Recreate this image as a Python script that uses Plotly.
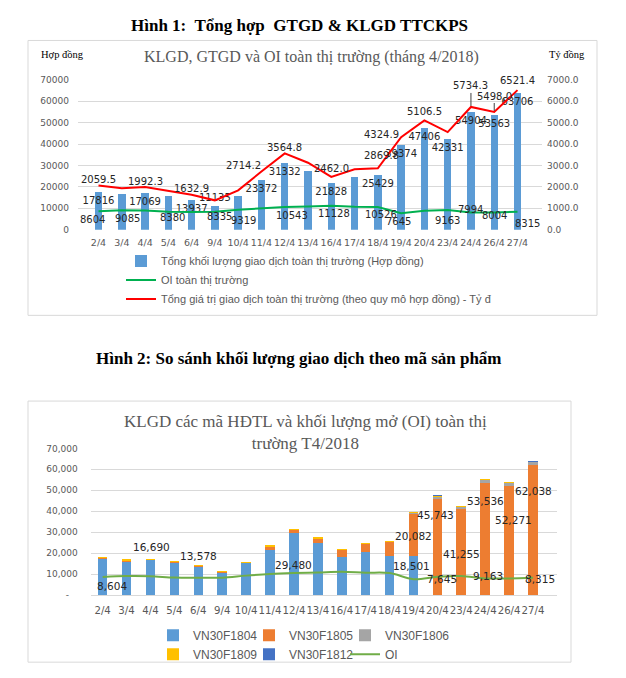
import plotly.graph_objects as go

W, H = 626, 678


def fx(p):
    return p / W


def fy(p):
    return 1 - p / H


# ---------------- data ----------------
days = ["2/4", "3/4", "4/4", "5/4", "6/4", "9/4", "10/4", "11/4", "12/4", "13/4",
        "16/4", "17/4", "18/4", "19/4", "20/4", "23/4", "24/4", "26/4", "27/4"]

# Figure 1
klgd = [17816, 16600, 17069, 15800, 13937, 11135, 15500, 23372, 31332, 27300,
        21828, 24700, 25429, 39374, 47406, 42331, 54904, 53563, 63706]
klgd_labeled = [1, 0, 1, 0, 1, 1, 0, 1, 1, 0, 1, 0, 1, 1, 1, 1, 1, 1, 1]
oi = [8604, 9085, 9000, 8380, 8300, 8335, 9319, 10100, 10543, 10800,
      11128, 10700, 10526, 7645, 8800, 9163, 7994, 8004, 8315]
oi_labeled = [1, 1, 0, 1, 0, 1, 1, 0, 1, 0, 1, 0, 1, 1, 0, 1, 1, 1, 1]
gtgd = [2059.5, 1930, 1992.3, 1825, 1632.9, 1370, 1835, 2714.2, 3564.8, 3128,
        2462.0, 2820, 2869.8, 4324.9, 5106.5, 4560, 5734.3, 5498.0, 6521.4]
gtgd_labeled = [1, 0, 1, 0, 1, 0, 0, 1, 1, 0, 1, 0, 1, 1, 1, 0, 1, 1, 1]

# Figure 2
f1804 = [17300, 16000, 16690, 15400, 13578, 10850, 15200, 21400, 29480, 25100,
         18400, 20500, 18700, 18501, 0, 0, 0, 0, 0]
f1805 = [480, 560, 350, 380, 330, 260, 280, 1650, 1800, 1900,
         3400, 3900, 6700, 20082, 45743, 41255, 53536, 52271, 62038]
f1806 = [20, 20, 10, 10, 10, 10, 10, 80, 20, 80,
         20, 40, 20, 500, 1300, 1050, 1300, 1250, 1300]
f1809 = [16, 20, 19, 10, 19, 15, 10, 242, 32, 220,
         8, 260, 9, 291, 300, 26, 68, 42, 168]
f1812 = [0, 0, 0, 0, 0, 0, 0, 0, 0, 0,
         0, 0, 0, 0, 63, 0, 0, 0, 200]
f1804_labeled = [0, 0, 1, 0, 1, 0, 0, 0, 1, 0, 0, 0, 0, 1, 0, 0, 0, 0, 0]
f1805_labeled = [0, 0, 0, 0, 0, 0, 0, 0, 0, 0, 0, 0, 0, 1, 1, 1, 1, 1, 1]
oi2_labeled = [1, 0, 0, 0, 0, 0, 0, 0, 0, 0, 0, 0, 0, 1, 0, 1, 0, 0, 1]

y1_ticks = [0, 10000, 20000, 30000, 40000, 50000, 60000, 70000]
y2_ticks = [0, 1000, 2000, 3000, 4000, 5000, 6000, 7000]
y3_ticktext = ["-\u00a0\u00a0\u00a0", "10,000", "20,000", "30,000", "40,000",
               "50,000", "60,000", "70,000"]

# ---------------- label placement styles (pixel offsets dx, dy; dy>0 = up) ----------------
RED_OFF = {7: (-18, 6), 10: (0, 8), 12: (4, 13), 13: (-20, 3), 14: (0, 9),
           16: (0, 21), 17: (0, 16), 18: (0, 10)}
RED_ARROW = {16, 17}
GREEN_OFF = {0: (-6, -8), 1: (6, -8), 3: (4, -6), 5: (5, -5), 6: (5, -11), 8: (7, -8),
             10: (3, -8), 12: (3, -7), 13: (-3, -8), 15: (0, -10), 16: (0, 3),
             17: (0, -3), 18: (10, -12)}
F1804_OFF = {2: (1, 13), 4: (0, 11), 8: (0, -32), 13: (-2, -10)}
F1805_OFF = {13: (0, -22), 14: (-2, -16), 15: (0, -45), 16: (0, -18), 17: (4, -34),
             18: (0, -26)}
OI2_OFF = {0: (9, -9), 13: (29, 0), 15: (27, 0), 18: (7, -1)}

GRAY = "#595959"
LBL = "#262626"


def lab(x, y, text, off, xref, yref, size, arrow=False):
    dx, dy = off
    font = dict(family="DejaVu Sans", size=size, color=LBL)
    if arrow:
        return dict(x=x, y=y, xref=xref, yref=yref, text=text, showarrow=True,
                    arrowhead=0, arrowwidth=1, arrowcolor="#404040", ax=dx, ay=-dy,
                    standoff=1, font=font)
    return dict(x=x, y=y, xref=xref, yref=yref, text=text, showarrow=False,
                xshift=dx, yshift=dy, xanchor="center", yanchor="middle", font=font)


fig = go.Figure()

# ---------------- Figure 1 ----------------
fig.add_trace(go.Bar(
    x=days, y=klgd, name="Tổng khối lượng giao dịch toàn thị trường (Hợp đồng)",
    marker=dict(color="#5B9BD5", line=dict(width=0)), width=0.32,
    text=[f"{v}" if s else "" for v, s in zip(klgd, klgd_labeled)],
    textposition=["inside"] * 5 + ["outside"] + ["inside"] * 13,
    insidetextanchor="end", textangle=0, constraintext="none",
    insidetextfont=dict(family="DejaVu Sans", size=10, color=LBL),
    outsidetextfont=dict(family="DejaVu Sans", size=10, color=LBL), cliponaxis=False,
    xaxis="x", yaxis="y", legend="legend", hoverinfo="skip"))
fig.add_trace(go.Scatter(
    x=days, y=oi, mode="lines", name="OI toàn thị trường",
    line=dict(color="#00B050", width=2),
    xaxis="x", yaxis="y", legend="legend", hoverinfo="skip"))
fig.add_trace(go.Scatter(
    x=days, y=gtgd, mode="lines",
    name="Tổng giá trị giao dịch toàn thị trường (theo quy mô hợp đồng) - Tỷ đ",
    line=dict(color="#FF0000", width=2),
    xaxis="x", yaxis="y2", legend="legend", hoverinfo="skip"))

# ---------------- Figure 2 ----------------
series2 = [("VN30F1804", f1804, "#5B9BD5", "legend2"),
           ("VN30F1805", f1805, "#ED7D31", "legend3"),
           ("VN30F1806", f1806, "#A5A5A5", "legend4"),
           ("VN30F1809", f1809, "#FFC000", "legend2"),
           ("VN30F1812", f1812, "#4472C4", "legend3")]
for name, vals, col, lg in series2:
    fig.add_trace(go.Bar(
        x=days, y=vals, name=name, marker=dict(color=col, line=dict(width=0)),
        width=0.4, xaxis="x2", yaxis="y3", legend=lg, hoverinfo="skip"))
fig.add_trace(go.Scatter(
    x=days, y=oi, mode="lines", name="OI", line=dict(color="#70AD47", width=2, shape="spline"),
    xaxis="x2", yaxis="y3", legend="legend4", hoverinfo="skip"))

# ---------------- data labels ----------------
annotations = []
for i, (d, v, s) in enumerate(zip(days, gtgd, gtgd_labeled)):
    if s:
        annotations.append(lab(d, v, f"{v:.1f}", RED_OFF.get(i, (0, 6)), "x", "y2", 10,
                               arrow=i in RED_ARROW))
for i, (d, v, s) in enumerate(zip(days, oi, oi_labeled)):
    if s:
        annotations.append(lab(d, v, f"{v}", GREEN_OFF.get(i, (0, -8)), "x", "y", 10))
for i, (d, v, s) in enumerate(zip(days, f1804, f1804_labeled)):
    if s:
        annotations.append(lab(d, v, f"{v:,}", F1804_OFF.get(i, (0, -10)), "x2", "y3", 10.5))
for i, (d, a, b, s) in enumerate(zip(days, f1804, f1805, f1805_labeled)):
    if s:
        annotations.append(lab(d, a + b, f"{b:,}", F1805_OFF.get(i, (0, -20)), "x2", "y3", 10.5))
for i, (d, v, s) in enumerate(zip(days, oi, oi2_labeled)):
    if s:
        annotations.append(lab(d, v, f"{v:,}", OI2_OFF.get(i, (20, 0)), "x2", "y3", 10.5))

# titles & texts
annotations += [
    dict(x=fx(299), y=fy(21), xref="paper", yref="paper", showarrow=False,
         text="<b>Hình 1:  Tổng hợp  GTGD & KLGD TTCKPS</b>",
         font=dict(family="Liberation Serif", size=17, color="#000000"),
         xanchor="center", yanchor="middle"),
    dict(x=fx(311), y=fy(53), xref="paper", yref="paper", showarrow=False,
         text="KLGD, GTGD và OI toàn thị trường (tháng 4/2018)",
         font=dict(family="Liberation Serif", size=16, color=GRAY),
         xanchor="center", yanchor="middle"),
    dict(x=fx(62), y=fy(50), xref="paper", yref="paper", showarrow=False,
         text="Hợp đồng", font=dict(family="Liberation Serif", size=10.5, color="#000000"),
         xanchor="center", yanchor="middle"),
    dict(x=fx(567), y=fy(50), xref="paper", yref="paper", showarrow=False,
         text="Tỷ đồng", font=dict(family="Liberation Serif", size=10.5, color="#000000"),
         xanchor="center", yanchor="middle"),
    dict(x=fx(299), y=fy(359), xref="paper", yref="paper", showarrow=False,
         text="<b>Hình 2: So sánh khối lượng giao dịch theo mã sản phẩm</b>",
         font=dict(family="Liberation Serif", size=17, color="#000000"),
         xanchor="center", yanchor="middle"),
    dict(x=fx(305), y=fy(434), xref="paper", yref="paper", showarrow=False,
         text="KLGD các mã HĐTL và khối lượng mở (OI) toàn thị<br>trường T4/2018",
         font=dict(family="Liberation Serif", size=17, color=GRAY),
         xanchor="center", yanchor="middle"),
]

shapes = [
    dict(type="rect", xref="paper", yref="paper", x0=fx(28), x1=fx(597), y0=fy(315), y1=fy(36),
         line=dict(color="#D9D9D9", width=1), fillcolor="rgba(0,0,0,0)", layer="below"),
    dict(type="rect", xref="paper", yref="paper", x0=fx(28), x1=fx(571), y0=fy(667), y1=fy(402),
         line=dict(color="#D9D9D9", width=1), fillcolor="rgba(0,0,0,0)", layer="below"),
]

tickfont_small = dict(family="DejaVu Sans", size=9, color=GRAY)
leg2_font = dict(family="Liberation Sans", size=12, color=GRAY)


def col_legend(xpx):
    return dict(orientation="v", x=fx(xpx), y=fy(625), xanchor="left", yanchor="top",
                traceorder="normal", bgcolor="rgba(0,0,0,0)", font=leg2_font)


fig.update_layout(
    width=W, height=H, margin=dict(l=0, r=0, t=0, b=0),
    paper_bgcolor="white", plot_bgcolor="white",
    barmode="stack", bargap=0.6,
    annotations=annotations, shapes=shapes,
    xaxis=dict(domain=[fx(78), fx(542)], anchor="y", type="category", tickangle=0,
               showgrid=False, showline=False, zeroline=False, ticks="",
               tickfont=dict(family="DejaVu Sans", size=9.5, color=GRAY), ticklabelstandoff=6),
    yaxis=dict(domain=[fy(228), fy(76)], anchor="x", range=[0, 70000], tickvals=y1_ticks,
               tickformat="d", showgrid=True, gridcolor="#D9D9D9", gridwidth=1,
               zeroline=False, showline=False, ticks="", tickfont=tickfont_small,
               ticklabelstandoff=8),
    yaxis2=dict(overlaying="y", anchor="x", side="right", range=[0, 7000], tickvals=y2_ticks,
                tickformat=".1f", showgrid=False, zeroline=False, showline=False, ticks="",
                tickfont=tickfont_small, ticklabelstandoff=4),
    xaxis2=dict(domain=[fx(90.7), fx(557)], anchor="y3", type="category", tickangle=0,
                showgrid=False, showline=True, linecolor="#D9D9D9", zeroline=False, ticks="",
                tickfont=dict(family="DejaVu Sans", size=10.2, color=GRAY), ticklabelstandoff=6),
    yaxis3=dict(domain=[fy(599), fy(450)], anchor="x2", range=[0, 70000],
                tickvals=y1_ticks, ticktext=y3_ticktext,
                showgrid=True, gridcolor="#D9D9D9", gridwidth=1, zeroline=False, showline=False,
                ticks="", tickfont=tickfont_small, ticklabelstandoff=12),
    legend=dict(orientation="v", x=fx(121), y=fy(245), xanchor="left", yanchor="top",
                traceorder="normal", bgcolor="rgba(0,0,0,0)", itemwidth=30,
                font=dict(family="Liberation Sans", size=11, color=GRAY)),
    legend2=col_legend(153),
    legend3=col_legend(249),
    legend4=col_legend(345),
    showlegend=True,
)

fig.write_html("out.html", config={"displayModeBar": False},
               post_script="document.body.style.margin='0';")
